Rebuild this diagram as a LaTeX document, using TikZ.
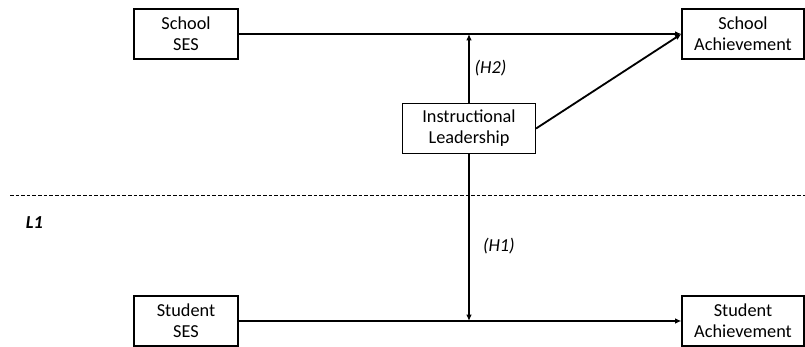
\documentclass[tikz,border=0pt]{standalone}
\usepackage{fontspec}
\setmainfont{Carlito}
\usetikzlibrary{arrows.meta,positioning}

\begin{document}
\begin{tikzpicture}[
    x=0.025cm, y=-0.025cm,
    >={Latex[length=4.5pt,width=4pt]},
    font=\fontsize{13}{15}\selectfont,
    % box style for the variables
    varbox/.style={draw, line width=0.8pt, align=center, minimum height=35.6pt, inner sep=2pt},
    path/.style={->, line width=1.3pt},
    hlabel/.style={font=\fontsize{13}{15}\selectfont\itshape}
]
\useasboundingbox (0,0) rectangle (805,347);

% --- 1. L2 variables ---
\node[varbox, minimum width=74pt] (schses) at (186, 34) {School\\SES};
\node[varbox, minimum width=86.8pt] (schach) at (743, 34) {School\\Achievement};
\node[varbox, minimum width=94.6pt] (lead) at (469, 128.5) {Instructional\\Leadership};

% --- 2. level separator ---
\draw[line width=0.7pt, dash pattern=on 2.5pt off 1.5pt] (10, 195) -- (805, 195);
\node[font=\fontsize{13}{15}\selectfont\bfseries\itshape, anchor=west] (lone) at (21, 223) {L1};

% --- 3. L1 variables ---
\node[varbox, minimum width=74pt] (stuses) at (186, 321) {Student\\SES};
\node[varbox, minimum width=86.8pt] (stuach) at (743, 321) {Student\\Achievement};

% --- 4. paths ---
\draw[path] (schses) -- (schach);
\draw[path] (stuses) -- (stuach);
\draw[path] (lead.east) -- (schach.west);

\coordinate (htwo) at (lead.north |- schses.east);
\coordinate (hone) at (lead.south |- stuses.east);
\draw[path] (lead.north) -- (htwo) node[midway, right=0pt, hlabel] {(H2)};
\draw[path] (lead.south) -- (hone) node[pos=0.55, right=6pt, hlabel] {(H1)};

\end{tikzpicture}
\end{document}
